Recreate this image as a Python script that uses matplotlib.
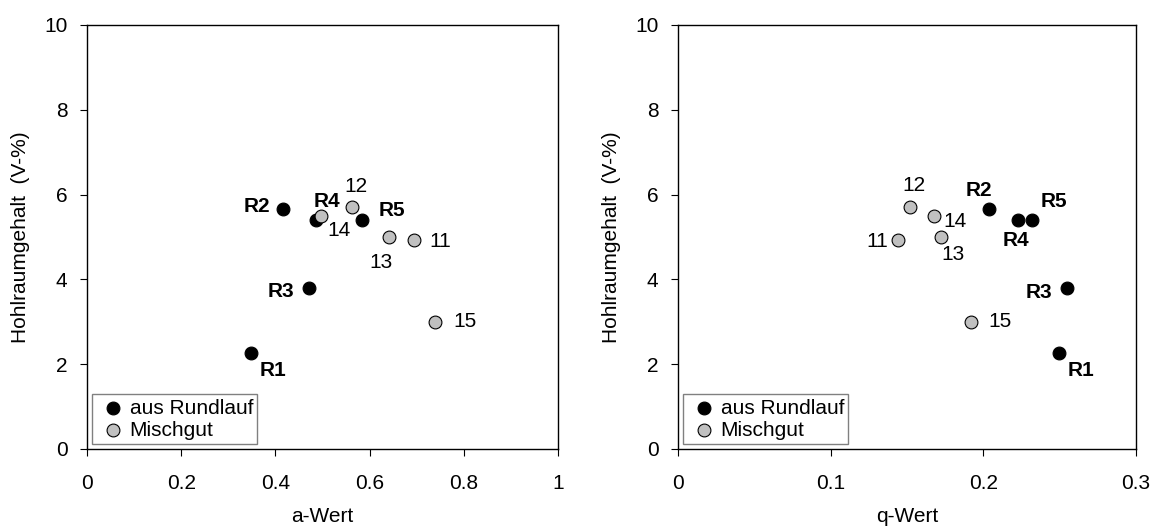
import matplotlib
matplotlib.use("Agg")
import matplotlib.pyplot as plt

plt.rcParams['font.family'] = ['Liberation Sans', 'DejaVu Sans']

# ----------------------------------------------------------
# Daten
# ----------------------------------------------------------
r_labels = ["R1", "R2", "R3", "R4", "R5"]
r_a = [0.348, 0.417, 0.472, 0.487, 0.583]
r_q = [0.2495, 0.204, 0.255, 0.223, 0.232]
r_hohl = [2.27, 5.65, 3.80, 5.40, 5.40]

m_labels = ["11", "12", "13", "14", "15"]
m_a = [0.695, 0.562, 0.641, 0.497, 0.738]
m_q = [0.144, 0.152, 0.172, 0.168, 0.192]
m_hohl = [4.92, 5.70, 5.00, 5.50, 3.00]

# label offsets in points
r_off_a = [(15.6, -12.7), (-19.3, 2.2), (-20.6, -2.4), (7.5, 13.7), (21.6, 7.2)]
m_off_a = [(18.7, -1), (2.9, 15.3), (-5.5, -18.3), (13.2, -10.8), (21.6, 0)]
r_off_q = [(15.6, -12.7), (-7.9, 13.7), (-20.2, -3.2), (-1.9, -14.6), (15.8, 13)]
m_off_q = [(-14.8, -0.5), (3.1, 15.4), (8.6, -12.5), (14.6, -4.1), (20.7, 0)]

FS = 15


def draw(ax, rx, mx, r_off, m_off, xmax, xticks, xticklabels, xlabel):
    ax.scatter(rx, r_hohl, s=85, c="black", edgecolors="black",
               linewidths=0.8, label="aus Rundlauf", zorder=3)
    ax.scatter(mx, m_hohl, s=85, c="#c0c0c0", edgecolors="black",
               linewidths=0.8, label="Mischgut", zorder=4)

    for lab, x, y, off in zip(r_labels, rx, r_hohl, r_off):
        ax.annotate(lab, (x, y), xytext=off, textcoords="offset points",
                    ha="center", va="center", fontsize=FS, fontweight="bold")
    for lab, x, y, off in zip(m_labels, mx, m_hohl, m_off):
        ax.annotate(lab, (x, y), xytext=off, textcoords="offset points",
                    ha="center", va="center", fontsize=FS)

    ax.set_xlim(0, xmax)
    ax.set_ylim(0, 10)
    ax.set_xticks(xticks)
    ax.set_xticklabels(xticklabels)
    ax.set_yticks([0, 2, 4, 6, 8, 10])
    ax.tick_params(direction="out", length=5, width=0.8, labelsize=FS,
                   top=False, right=False)
    ax.tick_params(axis="x", pad=13)
    ax.tick_params(axis="y", pad=9)
    for sp in ax.spines.values():
        sp.set_linewidth(1.0)
        sp.set_color("black")
    ax.set_xlabel(xlabel, fontsize=FS, labelpad=10)
    ax.set_ylabel("Hohlraumgehalt  (V-%)", fontsize=FS, labelpad=10)

    leg = ax.legend(loc="lower left", fontsize=FS, frameon=True, fancybox=False,
                    handletextpad=0.0, borderpad=0.2, labelspacing=0.15,
                    handlelength=1.6, borderaxespad=0.25, scatterpoints=1,
                    markerscale=1.0)
    leg.get_frame().set_edgecolor("#606060")
    leg.get_frame().set_linewidth(1.0)


fig = plt.figure(figsize=(11.52, 5.32), dpi=100)
ax1 = fig.add_axes([87 / 1152, 83 / 532, 471 / 1152, 424 / 532])
ax2 = fig.add_axes([678 / 1152, 83 / 532, 458 / 1152, 424 / 532])

draw(ax1, r_a, m_a, r_off_a, m_off_a, 1.0,
     [0, 0.2, 0.4, 0.6, 0.8, 1.0], ["0", "0.2", "0.4", "0.6", "0.8", "1"], "a-Wert")
draw(ax2, r_q, m_q, r_off_q, m_off_q, 0.3,
     [0, 0.1, 0.2, 0.3], ["0", "0.1", "0.2", "0.3"], "q-Wert")

fig.savefig("out.png", dpi=100)
